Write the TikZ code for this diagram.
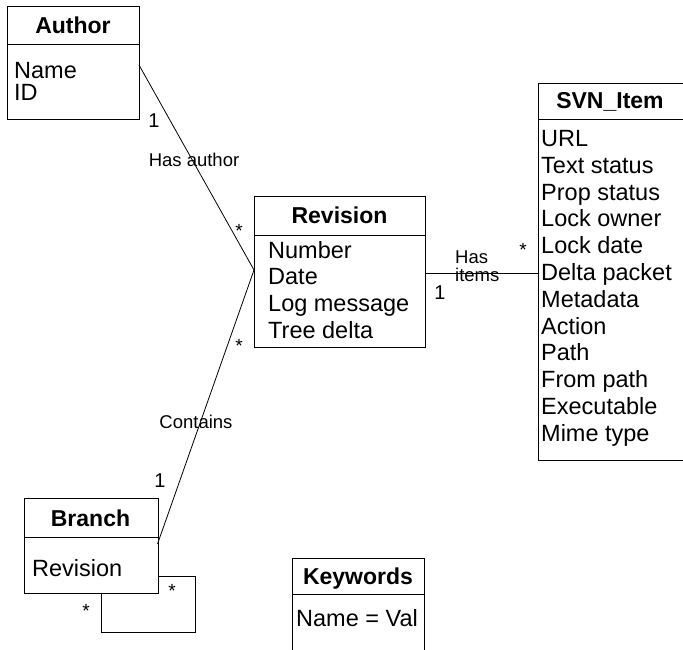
\documentclass[tikz,border=0pt]{standalone}
\usepackage{fontspec}
\setmainfont{Liberation Sans}
\begin{document}
\begin{tikzpicture}[x=1pt,y=-1pt,
  box/.style={draw,line width=0.8pt,inner sep=0pt,anchor=north west},
  hdr/.style={font=\fontsize{23}{26}\selectfont\bfseries,inner sep=0pt,anchor=base},
  attr/.style={font=\fontsize{23.5}{26.5}\selectfont,inner sep=0pt,anchor=base west},
  lbl/.style={font=\fontsize{18.5}{20}\selectfont,inner sep=0pt,anchor=base},
  mult/.style={font=\fontsize{20}{22}\selectfont,inner sep=0pt,anchor=base},
  star/.style={font=\fontsize{19}{20}\selectfont,inner sep=0pt,anchor=center},
  conn/.style={line width=0.8pt}]
\useasboundingbox (0,0) rectangle (683,650);

% Author
\node[box,minimum width=132pt,minimum height=113pt] (author) at (7,6) {};
\draw[conn] (7,44) -- (139,44);
\node[hdr] (authorh) at (73,33.5) {Author};
\node[attr] (authora1) at (14,78.5) {Name};
\node[attr] (authora2) at (14,101) {ID};

% Revision
\node[box,minimum width=171pt,minimum height=151pt] (rev) at (254,196) {};
\draw[conn] (254,235) -- (425,235);
\node[hdr] (revh) at (339.5,223.5) {Revision};
\node[attr] (reva1) at (268,258.5) {Number};
\node[attr] (reva2) at (268,284.5) {Date};
\node[attr] (reva3) at (268,311.5) {Log message};
\node[attr] (reva4) at (268,338) {Tree delta};

% SVN_Item (right side cut off)
\coordinate (svnNW) at (538,83);
\coordinate (svnSW) at (538,460);
\draw[conn] (690,83) -- (svnNW) -- (svnSW) -- (690,460);
\draw[conn] (538,119) -- (690,119);
\node[hdr] (svnh) at (610,109) {SVN\_Item};
\node[attr] (s1) at (541,146.5) {URL};
\node[attr] (s2) at (541,173.3) {Text status};
\node[attr] (s3) at (541,200.1) {Prop status};
\node[attr] (s4) at (541,226.9) {Lock owner};
\node[attr] (s5) at (541,253.7) {Lock date};
\node[attr] (s6) at (541,280.5) {Delta packet};
\node[attr] (s7) at (541,307.3) {Metadata};
\node[attr] (s8) at (541,334.1) {Action};
\node[attr] (s9) at (541,360.9) {Path};
\node[attr] (s10) at (541,387.7) {From path};
\node[attr] (s11) at (541,414.5) {Executable};
\node[attr] (s12) at (541,441.3) {Mime type};

% Branch
\node[box,minimum width=134pt,minimum height=95pt] (branch) at (23.5,498) {};
\draw[conn] (23.5,537) -- (157.5,537);
\node[hdr] (branchh) at (90.5,526.5) {Branch};
\node[attr] (branchA) at (32,576.5) {Revision};

% Keywords (bottom cut off)
\draw[conn] (292,655) -- (292,558) -- (424,558) -- (424,655);
\draw[conn] (292,594) -- (424,594);
\node[hdr] (kwh) at (358,584) {Keywords};
\node[attr] (kwa) at (296,626.5) {Name = Val};

% connector end points
\coordinate (authE) at (139,65);
\coordinate (revW) at (254,270);
\coordinate (revE) at (425,273);
\coordinate (svnW) at (538,273);
\coordinate (brE) at (157.5,544);
\coordinate (loopA) at (157.5,576);
\coordinate (loopB) at (101,593);

\draw[conn] (authE) -- (revW);
\draw[conn] (brE) -- (revW);
\draw[conn] (revE) -- (svnW);
\draw[conn] (loopA) -- (195,576) -- (195,632) -- (101,632) -- (loopB);

% labels
\node[lbl] (l1) at (194,166.5) {Has author};
\node[lbl] (l2) at (196,428.5) {Contains};
\node[lbl,anchor=base west] (l3) at (455,263.5) {Has};
\node[lbl,anchor=base west] (l4) at (455,281.5) {items};

\node[mult] (m1) at (154,128) {1};
\node[mult] (m2) at (440,299.5) {1};
\node[mult] (m3) at (160,487) {1};

\node[star] (st1) at (239,231) {*};
\node[star] (st2) at (239,346) {*};
\node[star] (st3) at (523,250) {*};
\node[star] (st4) at (172,591) {*};
\node[star] (st5) at (86,611) {*};
\end{tikzpicture}
\end{document}
